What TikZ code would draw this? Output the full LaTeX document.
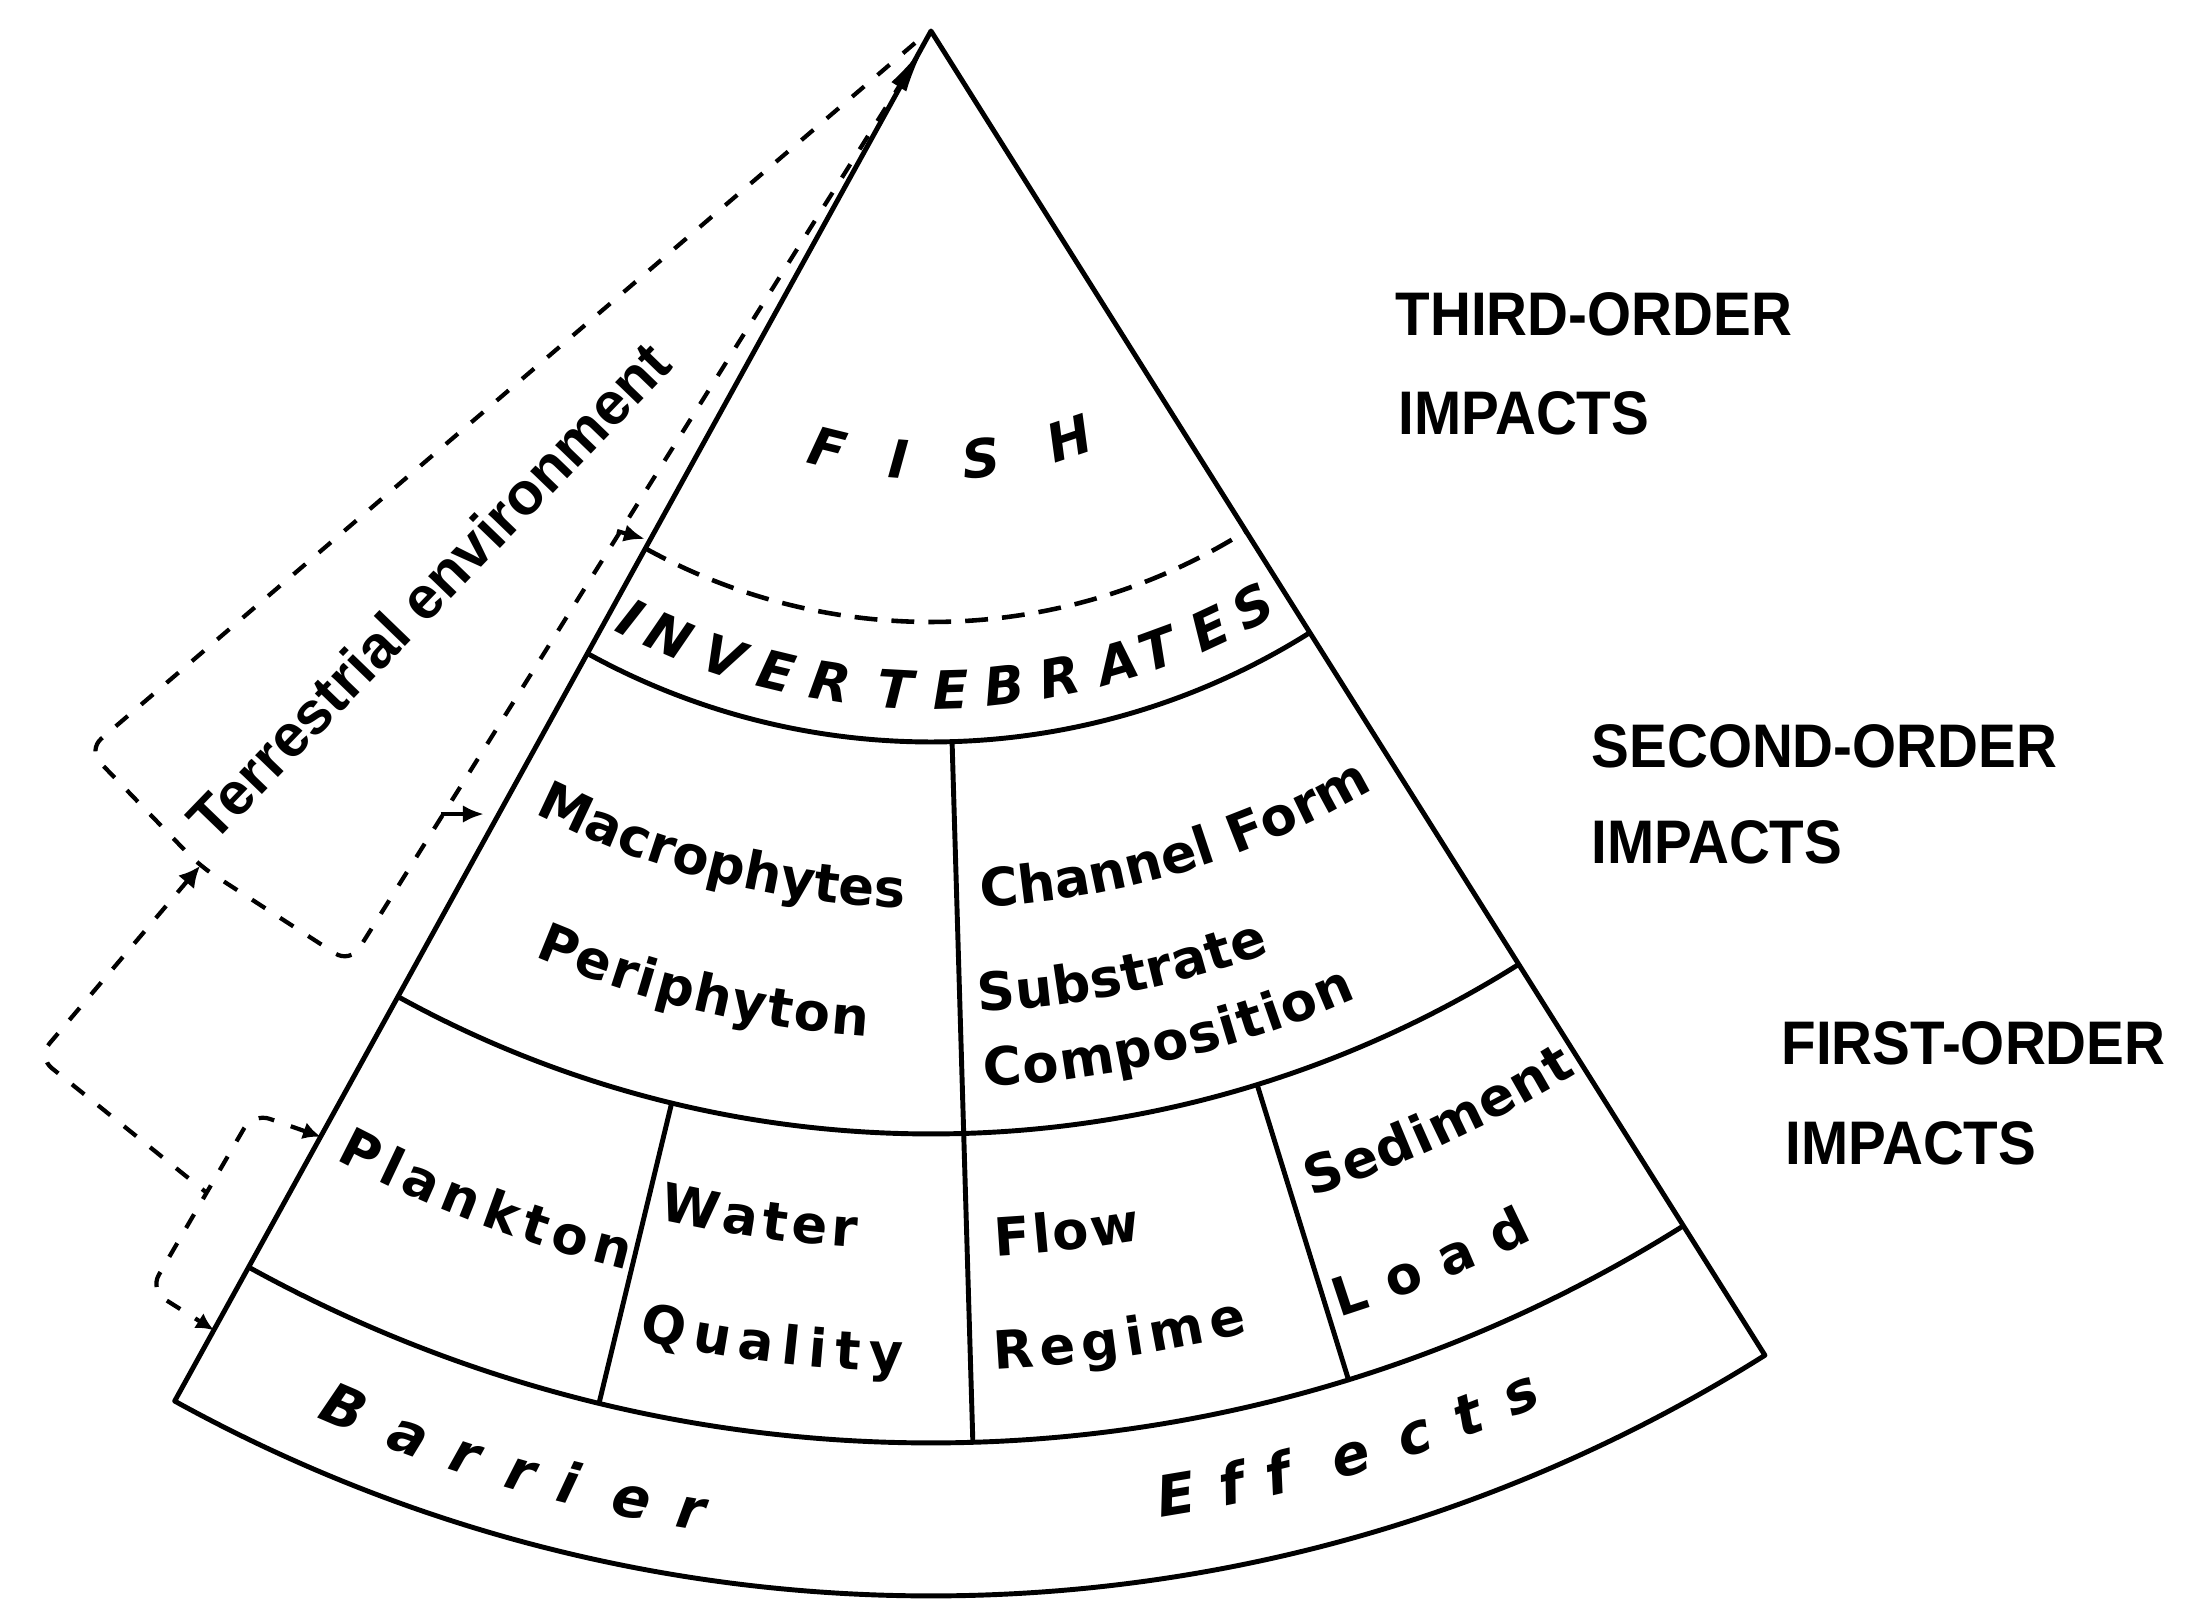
\documentclass[tikz,border=0pt]{standalone}
\usepackage{fontspec}
\setmainfont{Liberation Sans}
\newfontfamily\dvs{DejaVu Sans}
\usetikzlibrary{arrows.meta}
\newdimen\chw
\newcommand\innerfont{\dvs\fontsize{15}{18}\selectfont\bfseries}
\newcommand\capsfont{\dvs\fontsize{15}{18}\selectfont\bfseries\itshape}
\newcommand\barfont{\dvs\fontsize{16}{19}\selectfont\bfseries\itshape}
\newcommand\orderfont{\fontsize{17.5}{21}\selectfont\bfseries}
\newcommand\terrfont{\fontsize{17}{20}\selectfont\bfseries}
\makeatletter
% #1 baseline radius, #2 centre angle, #3 angular span, #4 font, #5 name prefix, #6 letters
\newcommand\arcword[6]{%
  \gdef\aw@tot{0}\gdef\aw@n{0}%
  \foreach \lettr in {#6}{%
    \pgfinterruptpicture\global\setbox1=\hbox{#4\lettr}\endpgfinterruptpicture
    \chw=\wd1\relax
    \edef\aw@cw{\strip@pt\chw}%
    \pgfmathsetmacro\aw@t{\aw@tot+\aw@cw}%
    \xdef\aw@tot{\aw@t}%
    \pgfmathtruncatemacro\aw@m{\aw@n+1}%
    \xdef\aw@n{\aw@m}%
  }%
  \pgfmathsetmacro\aw@w{#3*pi/180*#1*0.284528}%
  \pgfmathsetmacro\aw@tr{(\aw@w-\aw@tot)/max(\aw@n-1,1)}%
  \xdef\aw@w{\aw@w}\xdef\aw@tr{\aw@tr}%
  \gdef\aw@acc{0}%
  \foreach \lettr [count=\i] in {#6}{%
    \pgfinterruptpicture\global\setbox1=\hbox{#4\lettr}\endpgfinterruptpicture
    \chw=\wd1\relax
    \edef\aw@cw{\strip@pt\chw}%
    \pgfmathsetmacro\aw@s{\aw@acc+\aw@cw/2-\aw@w/2}%
    \pgfmathsetmacro\aw@a{#2+\aw@s/(#1*0.284528)*180/pi}%
    \pgfmathsetmacro\aw@r{\aw@a+90}%
    \node[anchor=base, inner sep=0pt, font=#4, rotate=\aw@r] (#5-\i) at (\aw@a:#1) {\lettr};%
    \pgfmathsetmacro\aw@t{\aw@acc+\aw@cw+\aw@tr}%
    \xdef\aw@acc{\aw@t}%
  }%
}
\makeatother
\begin{document}
\begin{tikzpicture}[x=0.01cm, y=0.01cm, line join=round,
  edge/.style={line width=1.4pt},
  terr/.style={line width=1.2pt, dash pattern=on 4.5pt off 5pt, rounded corners=5pt},
  fishdash/.style={line width=1.3pt, dash pattern=on 6.5pt off 4pt},
  blob/.style={line width=1.2pt, -{Latex[length=6pt,width=5pt]}},
  order/.style={anchor=base west, inner sep=0pt, font=\orderfont, xscale=0.92},
  letter/.style={anchor=base, inner sep=0pt}]
\useasboundingbox (-931,-1568) rectangle (1266,31);
\fill[white] (-931,-1568) rectangle (1266,31);

% ---------- sector ----------
\coordinate (apex) at (0,0);
\coordinate (L) at (241.1:1565);
\coordinate (R) at (302.2:1565);
\draw[edge] (apex) -- (L) arc[start angle=241.1, end angle=302.2, radius=1565] -- cycle;
\coordinate (r4L) at (241.1:1412);
\coordinate (r3L) at (241.1:1103);
\coordinate (r2L) at (241.1:711);
\coordinate (r1L) at (241.1:591);
\draw[edge] (r4L) arc[start angle=241.1, end angle=302.2, radius=1412];
\draw[edge] (r3L) arc[start angle=241.1, end angle=302.2, radius=1103];
\draw[edge] (r2L) arc[start angle=241.1, end angle=302.2, radius=711];
\draw[fishdash] (r1L) arc[start angle=241.1, end angle=302.2, radius=591];
\coordinate (dA1) at (271.7:711);  \coordinate (dA2) at (271.7:1412);
\coordinate (dB1) at (256.4:1103); \coordinate (dB2) at (256.4:1412);
\coordinate (dC1) at (287.2:1103); \coordinate (dC2) at (287.2:1412);
\draw[edge] (dA1) -- (dA2);
\draw[edge] (dB1) -- (dB2);
\draw[edge] (dC1) -- (dC2);

% ---------- terrestrial dashed outlines ----------
\coordinate (ta0) at (-16,-12);
\coordinate (ta1) at (-843,-719);
\coordinate (ta2) at (-731,-835);
\coordinate (ta3) at (-581,-932);
\coordinate (ta4) at (-6,-14);
\draw[terr, -{Latex[length=14pt,width=5pt]}] (ta0) -- (ta1) -- (ta2) -- (ta3) -- (ta4);
\coordinate (tb1) at (-893,-1026);
\coordinate (tb2) at (-724,-1162);
\draw[terr, {Latex[length=6pt,width=6pt]}-] (ta2) -- (tb1) -- (tb2);
\coordinate (tc0) at (241.1:1263);
\coordinate (tc1) at (-678,-1082);
\coordinate (tc2) at (-781,-1259);
\coordinate (tc3) at (241.1:1484);
\draw[terr, {Latex[length=5pt,width=5pt]}-{Latex[length=5pt,width=5pt]}] (tc0) -- (tc1) -- (tc2) -- (tc3);
\coordinate (bl2s) at (-314,-500); \coordinate (bl2e) at (-286,-508);
\coordinate (bl3s) at (-490,-783); \coordinate (bl3e) at (-447,-783);
\draw[blob] (bl2s) -- (bl2e);
\draw[blob] (bl3s) -- (bl3e);
\node[font=\terrfont, rotate=46] (terrtext) at (-502,-560) {Terrestrial environment};

% ---------- spaced capitals ----------
\foreach \lettr/\ang [count=\i] in {F/256.1, I/265.7, S/276.7, H/288.7}{%
  \pgfmathsetmacro\rot{\ang+90}%
  \node[letter, font=\capsfont, rotate=\rot] (fish-\i) at (\ang:449) {\lettr};}
\foreach \lettr/\ang [count=\i] in {I/242.9, N/246.6, V/251.7, E/256.4, R/261.2, T/266.9, E/271.7, B/276.4, R/281.3, A/286.5, T/290.1, E/295.0, S/299.2}{%
  \pgfmathsetmacro\rot{\ang+90}%
  \node[letter, font=\capsfont, rotate=\rot] (inv-\i) at (\ang:678) {\lettr};}
\foreach \lettr/\ang [count=\i] in {B/246.9, a/249.6, r/251.9, r/254.1, i/256.0, e/258.5, r/260.8}{%
  \pgfmathsetmacro\rot{\ang+90}%
  \node[letter, font=\barfont, rotate=\rot] (bar-\i) at (\ang:1517) {\lettr};}
\foreach \lettr/\ang [count=\i] in {E/279.5, f/281.7, f/283.5, e/286.4, c/289.0, t/291.2, s/293.4}{%
  \pgfmathsetmacro\rot{\ang+90}%
  \node[letter, font=\barfont, rotate=\rot] (eff-\i) at (\ang:1504) {\lettr};}

% ---------- curved words ----------
\arcword{877}{255.7}{25.2}{\innerfont}{mac}{M,a,c,r,o,p,h,y,t,e,s}
\arcword{1007}{256.6}{19.6}{\innerfont}{per}{P,e,r,i,p,h,y,t,o,n}
\arcword{878}{286.8}{27.0}{\innerfont}{cha}{C,h,a,n,n,e,l,\ ,F,o,r,m}
\arcword{982}{281.5}{17.4}{\innerfont}{sub}{S,u,b,s,t,r,a,t,e}
\arcword{1057}{283.35}{20.9}{\innerfont}{com}{C,o,m,p,o,s,i,t,i,o,n}
\arcword{1276}{249.2}{14.0}{\innerfont}{pla}{P,l,a,n,k,t,o,n}
\arcword{1219}{261.8}{9.4}{\innerfont}{wat}{W,a,t,e,r}
\arcword{1341}{263.1}{11.4}{\innerfont}{qua}{Q,u,a,l,i,t,y}
\arcword{1227}{276.45}{6.9}{\innerfont}{flo}{F,l,o,w}
\arcword{1340}{278.2}{11.0}{\innerfont}{reg}{R,e,g,i,m,e}
\arcword{1226}{294.95}{13.7}{\innerfont}{sed}{S,e,d,i,m,e,n,t}
\arcword{1350}{292.05}{8.9}{\innerfont}{loa}{L,o,a,d}

% ---------- impact labels ----------
\node[order] (third1) at (464,-304) {THIRD-ORDER};
\node[order] (third2) at (467,-403) {IMPACTS};
\node[order] (second1) at (660,-736) {SECOND-ORDER};
\node[order] (second2) at (660,-832) {IMPACTS};
\node[order] (first1) at (850,-1033) {FIRST-ORDER};
\node[order] (first2) at (854,-1133) {IMPACTS};
\end{tikzpicture}
\end{document}
